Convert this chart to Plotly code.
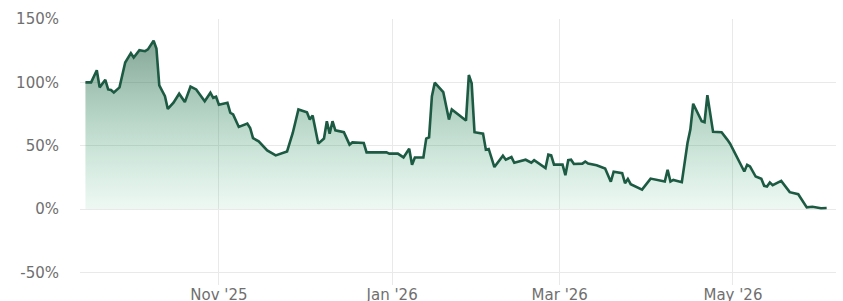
import plotly.graph_objects as go

dates = [
    "2025-09-15", "2025-09-17", "2025-09-19", "2025-09-20", "2025-09-22", "2025-09-23",
    "2025-09-24", "2025-09-25", "2025-09-27", "2025-09-29", "2025-10-01", "2025-10-02",
    "2025-10-04", "2025-10-06", "2025-10-07", "2025-10-09", "2025-10-10", "2025-10-11",
    "2025-10-13", "2025-10-14", "2025-10-16", "2025-10-18", "2025-10-20", "2025-10-22",
    "2025-10-24", "2025-10-27", "2025-10-29", "2025-10-30", "2025-10-31", "2025-11-01",
    "2025-11-04", "2025-11-05", "2025-11-06", "2025-11-08", "2025-11-11", "2025-11-12",
    "2025-11-13", "2025-11-15", "2025-11-18", "2025-11-21", "2025-11-25", "2025-11-27",
    "2025-11-29", "2025-12-02", "2025-12-03", "2025-12-04", "2025-12-06", "2025-12-08",
    "2025-12-09", "2025-12-10", "2025-12-11", "2025-12-12", "2025-12-15", "2025-12-17",
    "2025-12-18", "2025-12-22", "2025-12-23", "2025-12-30", "2025-12-31", "2026-01-03",
    "2026-01-05", "2026-01-07", "2026-01-08", "2026-01-09", "2026-01-12", "2026-01-13",
    "2026-01-14", "2026-01-15", "2026-01-16", "2026-01-19", "2026-01-21", "2026-01-22",
    "2026-01-27", "2026-01-28", "2026-01-29", "2026-01-30", "2026-02-02", "2026-02-03",
    "2026-02-04", "2026-02-06", "2026-02-09", "2026-02-10", "2026-02-12", "2026-02-13",
    "2026-02-17", "2026-02-19", "2026-02-20", "2026-02-24", "2026-02-25", "2026-02-26",
    "2026-02-27", "2026-03-02", "2026-03-03", "2026-03-04", "2026-03-05", "2026-03-06",
    "2026-03-09", "2026-03-10", "2026-03-11", "2026-03-14", "2026-03-17", "2026-03-19",
    "2026-03-20", "2026-03-23", "2026-03-24", "2026-03-25", "2026-03-26", "2026-03-30",
    "2026-04-02", "2026-04-07", "2026-04-08", "2026-04-09", "2026-04-10", "2026-04-13",
    "2026-04-15", "2026-04-16", "2026-04-17", "2026-04-20", "2026-04-21", "2026-04-22",
    "2026-04-24", "2026-04-27", "2026-04-29", "2026-04-30", "2026-05-05", "2026-05-06",
    "2026-05-07", "2026-05-09", "2026-05-11", "2026-05-12", "2026-05-13", "2026-05-14",
    "2026-05-15", "2026-05-18", "2026-05-21", "2026-05-24", "2026-05-27", "2026-05-29",
    "2026-06-01", "2026-06-03",
]

returns_pct = [
    100.0, 100.0, 109.5, 96.0, 102.0, 94.4,
    94.0, 92.0, 96.0, 115.6, 123.0, 119.6,
    125.4, 124.6, 126.0, 132.8, 126.7, 97.6,
    89.0, 79.0, 83.9, 91.0, 84.4, 96.6,
    94.4, 85.0, 91.8, 87.8, 88.6, 82.3,
    83.9, 76.0, 74.6, 64.8, 67.5, 64.0,
    56.0, 53.4, 46.3, 42.3, 45.5, 60.0,
    78.6, 76.4, 70.6, 73.8, 51.6, 55.6,
    69.3, 59.5, 69.3, 62.1, 60.6, 50.8,
    52.6, 52.1, 44.7, 44.7, 43.7, 43.7,
    40.7, 47.6, 34.9, 40.7, 40.7, 55.6,
    56.6, 89.1, 99.7, 92.3, 70.6, 78.6,
    69.8, 105.8, 99.2, 60.6, 59.5, 46.8,
    47.4, 33.1, 42.0, 38.9, 41.0, 36.5,
    38.9, 36.5, 38.5, 32.3, 42.9, 42.3,
    35.0, 35.0, 26.7, 38.5, 38.9, 35.5,
    35.8, 37.5, 35.9, 34.5, 32.0, 21.5,
    29.4, 28.3, 20.4, 23.7, 19.6, 15.3,
    24.0, 21.7, 31.0, 21.7, 23.0, 21.2,
    52.1, 62.7, 83.1, 69.3, 68.5, 89.9,
    60.9, 60.6, 54.8, 51.6, 29.6, 34.9,
    33.6, 25.6, 23.8, 18.3, 17.7, 20.9,
    18.8, 22.2, 13.3, 11.7, 1.3, 1.8,
    0.6, 0.8,
]

y_tick_values = [-50, 0, 50, 100, 150]
y_tick_labels = ["-50%", "0%", "50%", "100%", "150%"]

LINE = "#1d5a43"
GRID = "#e9e9e9"
TEXT = "#6f6f6f"

fig = go.Figure()
fig.add_trace(go.Scatter(
    x=dates,
    y=returns_pct,
    mode="lines",
    line=dict(color=LINE, width=2.6),
    fill="tozeroy",
    fillgradient=dict(
        type="vertical",
        start=0,
        stop=135,
        colorscale=[[0, "rgba(46,170,110,0.08)"], [1, "rgba(30,90,64,0.55)"]],
    ),
    hoverinfo="skip",
    showlegend=False,
))

fig.update_layout(
    width=843,
    height=301,
    margin=dict(l=80, r=7, t=19, b=16, autoexpand=False),
    paper_bgcolor="white",
    plot_bgcolor="white",
    font=dict(family="DejaVu Sans", size=15, color=TEXT),
    xaxis=dict(
        type="date",
        range=["2025-09-13 02:00", "2026-06-06 07:00"],
        tick0="2025-11-01",
        dtick="M2",
        tickformat="%b '%y",
        showgrid=True,
        gridcolor=GRID,
        gridwidth=1,
        zeroline=False,
        showline=False,
        ticks="",
        ticklabelstandoff=-1,
        automargin=False,
        fixedrange=True,
    ),
    yaxis=dict(
        range=[-60, 150],
        tickvals=y_tick_values,
        ticktext=y_tick_labels,
        showgrid=True,
        gridcolor=GRID,
        gridwidth=1,
        zeroline=True,
        zerolinecolor=GRID,
        zerolinewidth=1,
        showline=False,
        ticks="",
        ticklabelstandoff=20,
        automargin=False,
        fixedrange=True,
    ),
)

fig.write_html(
    "out.html",
    config={"displayModeBar": False, "staticPlot": True},
    post_script="document.body.style.margin='0';document.body.style.padding='0';",
)
